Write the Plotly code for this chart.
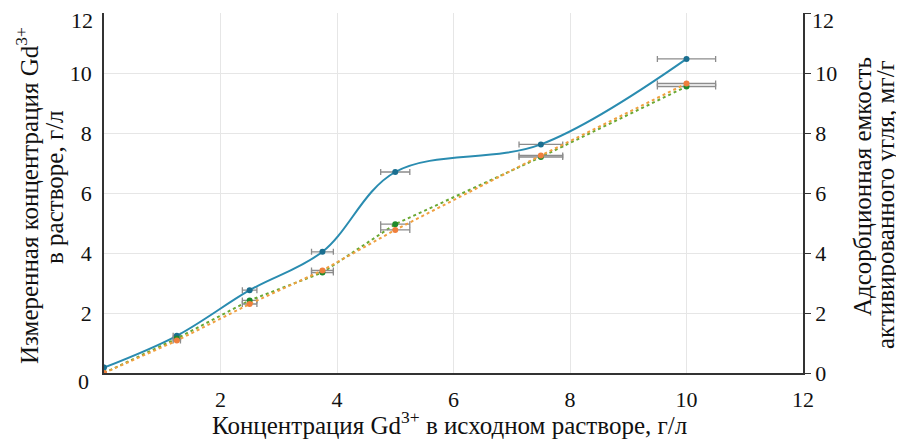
import plotly.graph_objects as go

x_conc = [0, 1.25, 2.5, 3.75, 5, 7.5, 10]
measured = [0.18, 1.24, 2.76, 4.04, 6.7, 7.62, 10.47]
capacity_orange = [0.0, 1.08, 2.3, 3.42, 4.77, 7.25, 9.65]
capacity_green = [0.0, 1.15, 2.42, 3.35, 4.96, 7.2, 9.55]
x_err = [0, 0.0625, 0.125, 0.1875, 0.25, 0.375, 0.5]

x_ticks = [2, 4, 6, 8, 10, 12]
y_ticks_left = [2, 4, 6, 8, 10]
y_ticks_right = [0, 2, 4, 6, 8, 10, 12]
y_ticktext_right = ["0", "2", "4", "6", "8", "10", ""]

FONT = "Liberation Serif, Times New Roman, serif"
err_style = dict(type="data", array=x_err, visible=True, color="#8c8c8c",
                 thickness=1.3, width=3)

# page body has an 8px margin; the figure is placed at (8, 8)
OFF = 8
W, H = 904 - OFF, 439 - OFF
L, R, T, B = 104 - OFF, 101, 13 - OFF, 66
pw, ph = W - L - R, H - T - B


def px(x):
    return (x - OFF - L) / pw


def py(y):
    return (H - B - (y - OFF)) / ph


fig = go.Figure()
fig.add_trace(go.Scatter(
    x=x_conc, y=capacity_green, mode="lines+markers", yaxis="y2",
    line=dict(color="#6aa832", width=2, dash="dot"),
    marker=dict(color="#1f8a2c", size=6),
    error_x=err_style, showlegend=False))
fig.add_trace(go.Scatter(
    x=x_conc, y=capacity_orange, mode="lines+markers", yaxis="y2",
    line=dict(color="#f0a040", width=2, dash="dot"),
    marker=dict(color="#f07f3c", size=6),
    error_x=err_style, showlegend=False))
fig.add_trace(go.Scatter(
    x=x_conc, y=measured, mode="lines+markers",
    line=dict(color="#2a8cb0", width=2, shape="spline", smoothing=1.0),
    marker=dict(color="#1b6f90", size=6),
    error_x=err_style, showlegend=False))

tickfont = dict(size=22, family=FONT, color="#111")
titlefont = dict(size=25, family=FONT, color="#111")

annotations = [
    dict(text="0", x=px(83), y=py(381), font=tickfont),
    dict(text="12", x=px(82), y=py(20), font=tickfont),
    dict(text="12", x=px(823), y=py(20), font=tickfont),
    dict(text="Концентрация Gd<sup>3+</sup> в исходном растворе, г/л",
         x=px(449), y=py(423), font=titlefont),
    dict(text="Измеренная концентрация Gd<sup>3+</sup>",
         x=px(27), y=py(196), textangle=-90, font=titlefont),
    dict(text="в растворе, г/л",
         x=px(55), y=py(187), textangle=-90, font=titlefont),
    dict(text="Адсорбционная емкость",
         x=px(863), y=py(187), textangle=-90, font=titlefont),
    dict(text="активированного угля, мг/г",
         x=px(885), y=py(205), textangle=-90, font=titlefont),
]
for a in annotations:
    a.update(xref="paper", yref="paper", xanchor="center", yanchor="middle",
             showarrow=False)

axis_common = dict(range=[0, 12], zeroline=False, showline=True,
                   linecolor="#333", linewidth=1.5, tickfont=tickfont,
                   automargin=False, ticklabeloverflow="allow")

fig.update_layout(
    width=W, height=H,
    margin=dict(l=L, r=R, t=T, b=B, autoexpand=False),
    paper_bgcolor="white", plot_bgcolor="white",
    font=dict(family=FONT, size=22, color="#111"),
    xaxis=dict(**axis_common, tickvals=x_ticks, showgrid=True,
               gridcolor="#e6e6e6", gridwidth=1, ticks="",
               ticklabelstandoff=6),
    yaxis=dict(**axis_common, tickvals=y_ticks_left, showgrid=True,
               gridcolor="#e6e6e6", gridwidth=1, ticks="",
               ticklabelstandoff=6),
    yaxis2=dict(**axis_common, tickvals=y_ticks_right,
                ticktext=y_ticktext_right, overlaying="y",
                side="right", showgrid=False,
                ticks="outside", ticklen=6, tickcolor="#333"),
    annotations=annotations,
)

fig.write_html("out.html")
